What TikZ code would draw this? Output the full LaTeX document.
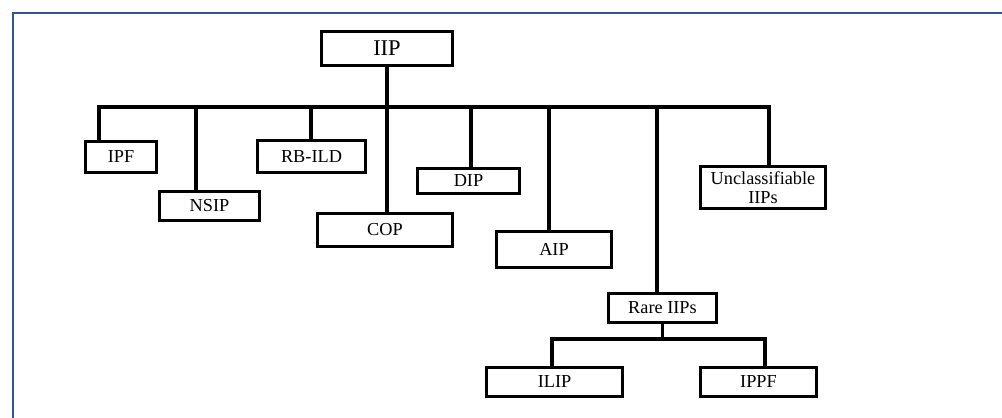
\documentclass[tikz,border=0pt]{standalone}
\usepackage{fontspec}
\setmainfont{Liberation Serif}
\usepackage{xcolor}
\definecolor{framecol}{HTML}{2F5597}
\usetikzlibrary{calc}

\begin{document}
\begin{tikzpicture}[every node/.style={font=\fontsize{13}{14}\selectfont},
    box/.style={draw, line width=2.2pt, inner sep=1pt, align=center},
    link/.style={line width=2.2pt}]
  \useasboundingbox (0,0) rectangle (25.05,-10.45);
  \draw[framecol, line width=1.6pt] (0.325,-10.45) -- (0.325,-0.325) -- (25.05,-0.325);

  \node[box, minimum width=3.275cm, minimum height=0.85cm, font=\fontsize{16}{18}\selectfont] (iip) at (9.675,-1.2125) {IIP};
  \node[box, minimum width=1.775cm, minimum height=0.775cm] (ipf) at (3.025,-3.925) {IPF};
  \node[box, minimum width=2.5cm, minimum height=0.725cm] (nsip) at (5.2375,-5.15) {NSIP};
  \node[box, minimum width=2.7cm, minimum height=0.8cm] (rbild) at (7.7875,-3.9125) {RB-ILD};
  \node[box, minimum width=3.375cm, minimum height=0.825cm] (cop) at (9.625,-5.75) {COP};
  \node[box, minimum width=2.55cm, minimum height=0.625cm] (dip) at (11.7125,-4.525) {DIP};
  \node[box, minimum width=2.875cm, minimum height=0.9cm] (aip) at (13.85,-6.2375) {AIP};
  \node[box, minimum width=3.125cm, minimum height=1.05cm] (uncl) at (19.075,-4.6875) {Unclassifiable\\IIPs};
  \node[box, minimum width=2.7cm, minimum height=0.725cm] (rare) at (16.5625,-7.7) {Rare IIPs};
  \node[box, minimum width=3.4cm, minimum height=0.725cm] (ilip) at (13.8625,-9.55) {ILIP};
  \node[box, minimum width=2.9cm, minimum height=0.725cm] (ippf) at (18.9625,-9.55) {IPPF};

  % main bus
  \coordinate (b1) at (2.475,-2.675);
  \coordinate (b2) at (4.9,-2.675);
  \coordinate (b3) at (7.775,-2.675);
  \coordinate (b5) at (11.775,-2.675);
  \coordinate (b6) at (13.725,-2.675);
  \coordinate (b7) at (16.425,-2.675);
  \coordinate (b8) at (19.225,-2.675);
  \draw[link] (ipf.north -| b1) -- (b1) -- (b8) -- (uncl.north -| b8);
  \draw[link] (iip.south) -- (iip.south |- cop.north);
  \draw[link] (b2) -- (b2 |- nsip.north);
  \draw[link] (b3) -- (b3 |- rbild.north);
  \draw[link] (b5) -- (b5 |- dip.north);
  \draw[link] (b6) -- (b6 |- aip.north);
  \draw[link] (b7) -- (b7 |- rare.north);

  % rare IIPs split
  \coordinate (r1) at (13.8,-8.475);
  \coordinate (r2) at (19.125,-8.475);
  \draw[link] (rare.south) -- (rare.south |- r1);
  \draw[link] (ilip.north -| r1) -- (r1) -- (r2) -- (ippf.north -| r2);
\end{tikzpicture}
\end{document}
